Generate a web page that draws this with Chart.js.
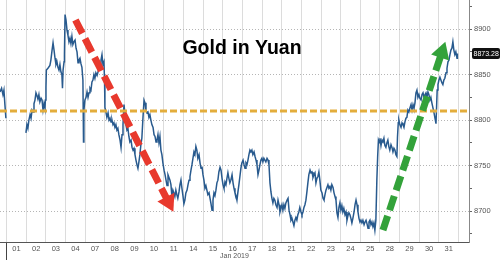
<!DOCTYPE html>
<html>
<head>
<meta charset="utf-8">
<script src="https://cdn.jsdelivr.net/npm/chart.js@4.4.1/dist/chart.umd.min.js"></script>
<style>
  html, body { margin: 0; padding: 0; background: #fff; }
</style>
</head>
<body>
<canvas id="chart" width="500" height="260"></canvas>
<script>
// trading days in Jan 2019 (day index 0 = Jan 01)
const dayLabels = ['01','02','03','04','07','08','09','10','11','14','15','16','17','18','21','22','23','24','25','28','29','30','31'];

// intraday prices, time in day units
const times = [
  -0.34,-0.26,-0.19,-0.14,-0.09,-0.04, 0.5,
  0.98,1.03,1.08,1.13,1.19,1.24,1.29,1.34,1.39,1.44,1.49,1.54,1.59,1.64,1.69,1.75,1.80,1.85,1.90,1.95,1.97,
  2.0,2.02,2.10,2.20,2.25,2.31,2.36,2.41,2.46,2.51,2.56,2.61,2.66,2.71,2.76,2.81,2.84,2.87,2.92,2.94,
  2.97,3.02,3.07,3.12,3.17,3.22,3.27,3.32,3.37,3.42,3.48,3.53,3.58,3.63,3.68,3.73,3.78,3.83,3.88,3.91,3.93,3.98,
  4.04,4.09,4.14,4.19,4.24,4.29,4.34,4.39,4.44,4.49,4.54,4.60,4.65,4.70,4.75,4.80,4.85,4.90,4.95,4.98,
  5.0,5.05,5.10,5.16,5.21,5.26,5.31,5.36,5.41,5.46,5.51,5.56,5.61,5.66,5.71,5.77,5.82,5.87,5.92,5.97,6.0,
  6.02,6.07,6.12,6.17,6.22,6.27,6.33,6.38,6.43,6.48,6.53,6.58,6.63,6.68,6.73,6.78,6.83,6.88,6.93,6.99,
  7.04,7.09,7.14,7.19,7.24,7.29,7.34,7.39,7.45,7.50,7.55,7.60,7.65,7.70,7.75,7.80,7.85,7.90,7.95,
  8.01,8.06,8.11,8.16,8.21,8.26,8.31,8.36,8.41,8.46,8.51,8.56,8.61,8.66,8.71,8.77,8.82,8.87,8.92,8.97,
  9.02,9.07,9.12,9.18,9.23,9.28,9.33,9.38,9.43,9.48,9.53,9.58,9.63,9.68,9.73,9.79,9.84,9.89,9.94,
  9.99,10.04,10.09,10.14,10.19,10.24,10.30,10.35,10.40,10.45,10.50,10.55,10.60,10.65,10.70,10.75,10.80,10.86,10.91,10.96,
  11.01,11.06,11.11,11.16,11.21,11.26,11.31,11.36,11.41,11.47,11.52,11.57,11.62,11.67,11.72,11.77,11.82,11.87,11.92,11.97,
  12.03,12.08,12.13,12.18,12.23,12.28,12.33,12.38,12.43,12.48,12.53,12.59,12.64,12.69,12.74,12.79,12.84,12.89,12.94,12.99,
  13.04,13.09,13.14,13.19,13.25,13.30,13.35,13.40,13.45,13.50,13.55,13.60,13.65,13.70,13.76,13.81,13.86,13.91,13.96,
  14.01,14.06,14.11,14.16,14.21,14.27,14.32,14.37,14.42,14.47,14.52,14.57,14.62,14.67,14.72,14.77,14.82,14.87,14.92,14.98,
  15.03,15.08,15.13,15.18,15.23,15.28,15.33,15.38,15.44,15.49,15.54,15.59,15.64,15.69,15.74,15.79,15.84,15.89,15.94,15.99,
  16.05,16.10,16.15,16.20,16.25,16.30,16.35,16.40,16.45,16.50,16.55,16.61,16.66,16.71,16.76,16.81,16.86,16.91,16.96,
  17.01,17.06,17.11,17.16,17.22,17.27,17.32,17.37,17.42,17.47,17.52,17.57,17.62,17.68,17.73,17.78,17.83,17.88,17.93,17.98,
  18.03,18.08,18.13,18.19,18.24,18.29,18.34,18.39,18.44,18.49,18.54,18.59,18.64,18.69,18.74,18.79,18.84,18.88,18.92,18.97,
  19.0,19.05,19.10,19.15,19.20,19.25,19.30,19.35,19.40,19.45,19.50,19.56,19.61,19.66,19.71,19.76,19.81,19.86,19.89,19.93,
  19.96,20.01,20.07,20.12,20.17,20.22,20.27,20.32,20.37,20.42,20.47,20.52,20.58,20.63,20.68,20.73,20.78,20.83,20.88,20.93,
  20.98,21.03,21.09,21.14,21.19,21.24,21.29,21.34,21.39,21.44,21.49,21.54,21.59,21.64,21.69,21.75,21.80,21.85,21.87,21.91,
  21.95,22.0,22.05,22.10,22.15,22.20,22.25,22.30,22.36,22.41,22.46,22.51,22.56,22.61,22.66,22.71,22.76,22.81,22.86,22.92,22.94
];
const prices = [
  8831,8835,8828,8833,8817,8802, null,
  8786,8795,8791,8800,8806,8802,8811,8809,8818,8822,8830,8827,8823,8828,8820,8824,8822,8811,8818,8813,8822,
  8836,8855,8857,8860,8866,8877,8885,8877,8868,8861,8864,8858,8855,8861,8853,8850,8835,8855,8864,8872,
  8916,8910,8899,8893,8886,8890,8884,8892,8883,8886,8888,8879,8875,8863,8866,8868,8862,8858,8844,8776,8811,8822,
  8825,8831,8825,8830,8835,8833,8842,8844,8850,8846,8852,8849,8853,8857,8860,8866,8872,8861,8864,8844,
  8814,8809,8803,8808,8800,8802,8798,8800,8795,8797,8792,8795,8789,8791,8784,8778,8770,8784,8795,8817,8811,
  8802,8795,8789,8791,8782,8776,8778,8770,8767,8769,8762,8756,8751,8747,8754,8762,8773,8780,8800,8822,
  8819,8811,8808,8809,8803,8806,8800,8795,8792,8784,8782,8776,8778,8784,8775,8782,8767,8762,8753,
  8745,8740,8734,8728,8740,8737,8734,8729,8716,8723,8720,8716,8723,8718,8714,8721,8729,8734,8725,8717,
  8708,8712,8720,8723,8729,8734,8738,8745,8751,8758,8765,8762,8771,8767,8758,8762,8753,8747,8749,
  8740,8734,8725,8728,8723,8718,8720,8714,8708,8701,8712,8720,8717,8723,8731,8734,8743,8748,8745,8736,
  8729,8725,8732,8729,8736,8742,8736,8731,8734,8740,8731,8725,8720,8717,8712,8721,8729,8738,8747,8753,
  8756,8751,8747,8753,8751,8756,8762,8767,8765,8767,8762,8765,8760,8756,8751,8740,8745,8751,8756,8758,
  8754,8758,8756,8754,8758,8756,8751,8731,8721,8714,8709,8714,8712,8707,8704,8712,8707,8699,8703,
  8707,8701,8707,8703,8709,8712,8714,8701,8696,8690,8692,8688,8684,8690,8693,8690,8696,8699,8704,8699,
  8696,8699,8704,8707,8712,8721,8731,8740,8745,8742,8743,8737,8740,8742,8731,8736,8738,8743,8734,8723,
  8720,8714,8712,8718,8723,8726,8729,8725,8727,8723,8729,8726,8720,8716,8712,8698,8693,8704,8709,
  8701,8706,8699,8703,8696,8699,8690,8695,8698,8696,8692,8687,8692,8699,8707,8712,8707,8699,8692,8688,
  8690,8687,8690,8685,8688,8690,8686,8681,8688,8690,8685,8688,8683,8687,8679,8690,8734,8759,8778,8775,
  8780,8772,8778,8776,8780,8772,8770,8775,8778,8771,8767,8773,8770,8765,8769,8767,8762,8760,8781,8797,
  8800,8795,8792,8797,8795,8792,8798,8802,8803,8811,8809,8813,8817,8811,8817,8813,8819,8830,8833,8825,
  8828,8824,8822,8828,8830,8825,8828,8830,8825,8831,8828,8822,8825,8819,8814,8808,8802,8796,8808,8833,
  8839,8844,8847,8844,8841,8839,8844,8846,8852,8857,8864,8866,8872,8877,8879,8886,8877,8872,8875,8868,8873.28
];

const yTicks = [8675, 8700, 8725, 8750, 8775, 8800, 8825, 8850, 8875, 8900, 8925];
const xRange = [-0.34, 23.53];
const yRange = [8666, 8932];
const refLevel = 8810;

// annotation arrows: tail, then head centre
const redArrowX = [3.5, 8.23];
const redArrowY = [8910, 8710];
const greenArrowX = [19.15, 22.15];
const greenArrowY = [8679, 8874.5];

const lastPrice = prices[prices.length - 1];

// x ticks: whole numbers carry the grid, halves carry the day label
const xTicks = [];
for (let i = 0; i <= dayLabels.length; i++) {
  xTicks.push(i);
  if (i < dayLabels.length) xTicks.push(i + 0.5);
}

function arrowRotation(ctx) {
  const chart = ctx.chart;
  const d = ctx.dataset.data;
  const dx = chart.scales.x.getPixelForValue(d[1].x) - chart.scales.x.getPixelForValue(d[0].x);
  const dy = chart.scales.y.getPixelForValue(d[1].y) - chart.scales.y.getPixelForValue(d[0].y);
  return Math.atan2(dx, -dy) * 180 / Math.PI;
}

function arrowDataset(xs, ys, color) {
  return {
    data: xs.map((x, i) => ({ x, y: ys[i] })),
    borderColor: color,
    borderWidth: 7,
    borderDash: [15, 6],
    borderCapStyle: 'butt',
    pointStyle: 'triangle',
    pointRadius: ctx => ctx.dataIndex === 1 ? 11 : 0,
    pointBackgroundColor: color,
    pointBorderWidth: 0,
    pointRotation: arrowRotation,
    order: 1
  };
}

// no extra room for edge labels: plot runs to the canvas edges
function noPadding(scale) {
  scale.paddingLeft = 0;
  scale.paddingRight = 0;
  scale.paddingTop = 0;
  scale.paddingBottom = 0;
}

const overlay = {
  id: 'overlay',
  afterDraw(chart) {
    const ctx = chart.ctx;
    const area = chart.chartArea;
    ctx.save();
    ctx.fillStyle = '#000';
    ctx.font = 'bold 19.5px "Liberation Sans", Arial, sans-serif';
    ctx.textAlign = 'center';
    ctx.textBaseline = 'alphabetic';
    ctx.fillText('Gold in Yuan', 242, 54);

    // last value tag on the right axis
    const y = chart.scales.y.getPixelForValue(lastPrice);
    ctx.fillStyle = '#111';
    ctx.beginPath();
    ctx.roundRect(area.right + 3, y - 5.5, 28, 11, 2);
    ctx.fill();
    ctx.fillStyle = '#fff';
    ctx.font = '7px "Liberation Sans", Arial, sans-serif';
    ctx.textAlign = 'left';
    ctx.textBaseline = 'middle';
    ctx.fillText(lastPrice.toFixed(2), area.right + 4.5, y + 0.5);
    ctx.restore();
  }
};

new Chart(document.getElementById('chart'), {
  type: 'line',
  data: {
    datasets: [
      {
        data: times.map((t, i) => ({ x: t, y: prices[i] })),
        borderColor: '#285a8e',
        borderWidth: 1.5,
        pointRadius: 0,
        tension: 0,
        spanGaps: false,
        order: 3
      },
      {
        data: xRange.map(x => ({ x, y: refLevel })),
        borderColor: '#e3ad3c',
        borderWidth: 3,
        borderDash: [7, 3],
        pointRadius: 0,
        order: 2
      },
      arrowDataset(redArrowX, redArrowY, '#e8392d'),
      arrowDataset(greenArrowX, greenArrowY, '#33a23a')
    ]
  },
  options: {
    responsive: false,
    animation: false,
    layout: { padding: 0, autoPadding: false },
    plugins: { legend: { display: false }, tooltip: { enabled: false } },
    scales: {
      x: {
        type: 'linear',
        min: xRange[0],
        max: xRange[1],
        afterBuildTicks: scale => { scale.ticks = xTicks.map(v => ({ value: v })); },
        afterFit: scale => { scale.height = 18; noPadding(scale); },
        grid: {
          color: c => Number.isInteger(c.tick.value) ? '#dcdcdc' : 'rgba(0,0,0,0)',
          tickColor: c => c.tick.value === 0 ? '#444' : 'rgba(0,0,0,0)',
          tickLength: 18
        },
        border: { display: true, color: '#555', width: 1 },
        ticks: {
          autoSkip: false,
          maxRotation: 0,
          padding: -15.5,
          color: '#555',
          font: { size: 7.5, family: '"Liberation Sans", Arial, sans-serif' },
          callback: v => Number.isInteger(v) ? '' : dayLabels[Math.floor(v)]
        },
        title: {
          display: true,
          text: 'Jan 2019',
          color: '#555',
          padding: 0,
          font: { size: 7, family: '"Liberation Sans", Arial, sans-serif' }
        }
      },
      y: {
        position: 'right',
        min: yRange[0],
        max: yRange[1],
        afterBuildTicks: scale => { scale.ticks = yTicks.map(v => ({ value: v })); },
        afterFit: scale => { scale.width = 31; noPadding(scale); },
        grid: {
          color: c => c.tick.value % 50 === 0 ? '#b5b5b5' : 'rgba(0,0,0,0)',
          tickColor: '#666',
          tickLength: 3,
          tickBorderDash: []
        },
        border: { display: true, color: '#888', dash: [1, 2] },
        ticks: {
          padding: 2,
          color: '#555',
          font: { size: 7.5, family: '"Liberation Sans", Arial, sans-serif' },
          callback: v => v % 50 === 0 ? String(v) : ''
        }
      }
    }
  },
  plugins: [overlay]
});
</script>
</body>
</html>
